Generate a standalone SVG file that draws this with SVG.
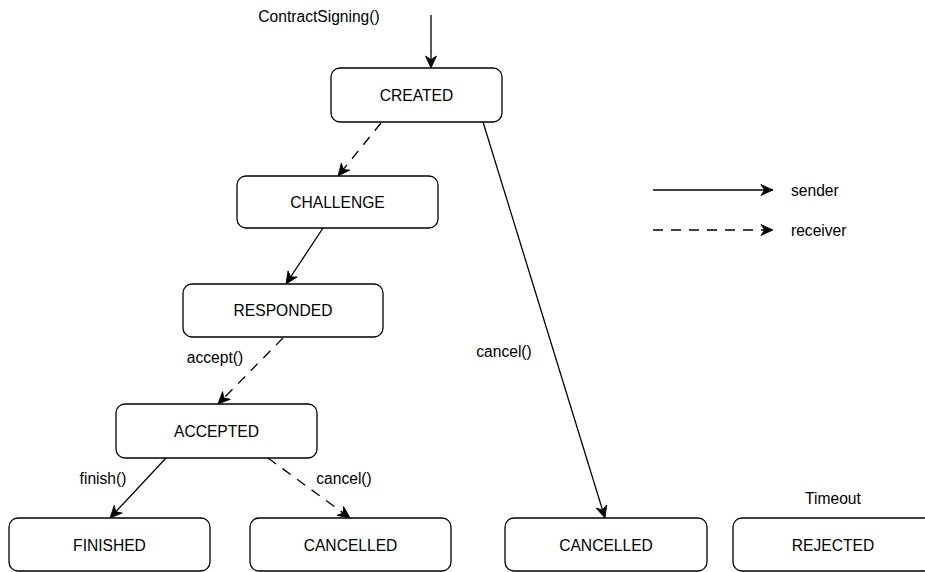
<svg xmlns="http://www.w3.org/2000/svg" width="925" height="572" viewBox="0 0 925 572">
  <style>
    .state rect { fill: #ffffff; stroke: #000000; stroke-width: 1.3; }
    .state text, .lbl { font-family: "Liberation Sans", Arial, Helvetica, sans-serif; font-size: 15.6px; fill: #000000; }
    .state text { text-anchor: middle; dominant-baseline: central; }
    .lbl { dominant-baseline: central; }
    .edge { fill: none; stroke: #000000; stroke-width: 1.3; marker-end: url(#arrow); }
    .dash { stroke-dasharray: 10 8; }
  </style>
  <defs>
    <marker id="arrow" markerUnits="userSpaceOnUse" markerWidth="14" markerHeight="14" viewBox="0 0 14 14" refX="13" refY="7" orient="auto">
      <path d="M1,1.5 L13,7 L1,12.5 L4.5,7 Z" fill="#000000" stroke="#000000" stroke-width="0.8" stroke-linejoin="miter"/>
    </marker>
  </defs>

  <rect width="925" height="572" fill="#ffffff"/>

  <!-- states -->
  <g id="created" class="state">
    <rect x="331" y="68" width="171" height="54" rx="9"/>
    <text x="416.5" y="95">CREATED</text>
  </g>
  <g id="challenge" class="state">
    <rect x="237" y="176" width="201" height="52" rx="9"/>
    <text x="337.5" y="202">CHALLENGE</text>
  </g>
  <g id="responded" class="state">
    <rect x="183" y="284" width="200" height="53" rx="9"/>
    <text x="283" y="310.5">RESPONDED</text>
  </g>
  <g id="accepted" class="state">
    <rect x="116" y="404" width="201" height="54" rx="9"/>
    <text x="216.5" y="431">ACCEPTED</text>
  </g>
  <g id="finished" class="state">
    <rect x="9" y="518" width="201" height="53" rx="9"/>
    <text x="109.5" y="545">FINISHED</text>
  </g>
  <g id="cancelled-a" class="state">
    <rect x="250" y="518" width="201" height="53" rx="9"/>
    <text x="350.5" y="545">CANCELLED</text>
  </g>
  <g id="cancelled-b" class="state">
    <rect x="505" y="518" width="202" height="53" rx="9"/>
    <text x="606" y="545">CANCELLED</text>
  </g>
  <g id="rejected" class="state">
    <rect x="733" y="518" width="200" height="53" rx="9"/>
    <text x="833" y="545">REJECTED</text>
  </g>

  <!-- transitions -->
  <g id="connectors">
    <line class="edge" x1="431" y1="15" x2="431" y2="68"/>
    <line class="edge dash" x1="381" y1="123" x2="338" y2="176"/>
    <line class="edge" x1="323" y1="228" x2="286" y2="284"/>
    <line class="edge dash" x1="283" y1="338" x2="218" y2="404"/>
    <line class="edge" x1="166" y1="458" x2="110" y2="518"/>
    <line class="edge dash" x1="268" y1="458" x2="350" y2="518"/>
    <line class="edge" x1="483" y1="122" x2="605" y2="518"/>
    <!-- legend -->
    <line class="edge" x1="653" y1="190" x2="773" y2="190"/>
    <line class="edge dash" x1="653" y1="230" x2="773" y2="230"/>
  </g>

  <!-- labels -->
  <g id="labels">
    <text class="lbl" x="319" y="16" text-anchor="middle">ContractSigning()</text>
    <text class="lbl" x="215" y="357" text-anchor="middle">accept()</text>
    <text class="lbl" x="103" y="478" text-anchor="middle">finish()</text>
    <text class="lbl" x="344" y="478" text-anchor="middle">cancel()</text>
    <text class="lbl" x="504" y="351" text-anchor="middle">cancel()</text>
    <text class="lbl" x="833" y="498" text-anchor="middle">Timeout</text>
    <text class="lbl" x="791" y="190">sender</text>
    <text class="lbl" x="791" y="230">receiver</text>
  </g>
</svg>
